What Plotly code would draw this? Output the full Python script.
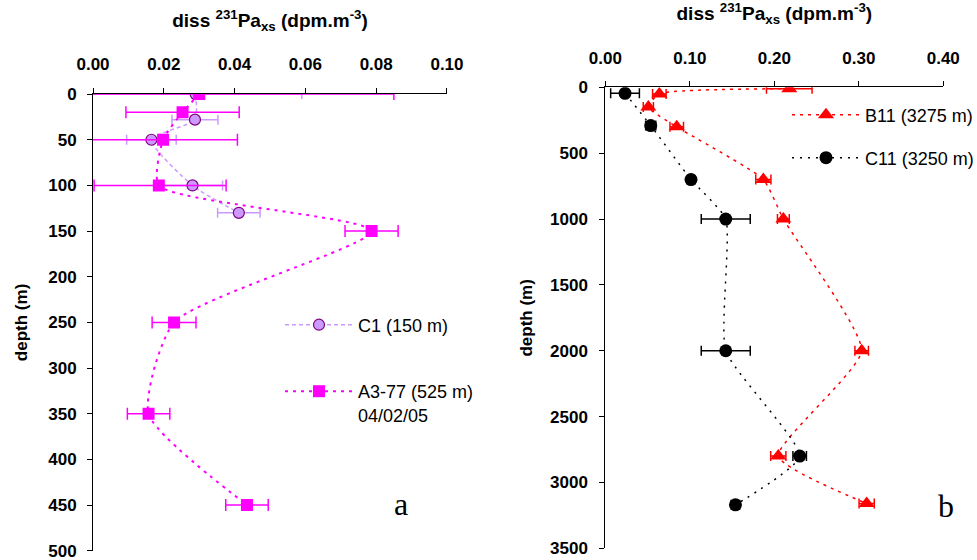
import plotly.graph_objects as go

# ---- Panel a ----
c1_depth = [0, 28, 50, 100, 130]
c1_val = [0.029, 0.0288, 0.0165, 0.0281, 0.0412]
c1_err = [0.030, 0.0065, 0.007, 0.0085, 0.006]

a3_depth = [0, 20, 50, 100, 150, 250, 350, 450]
a3_val = [0.030, 0.0253, 0.0198, 0.0186, 0.0787, 0.0229, 0.0157, 0.0435]
a3_err_plus = [0.055, 0.016, 0.021, 0.019, 0.0075, 0.0062, 0.006, 0.006]
a3_err_minus = [0.032, 0.016, 0.021, 0.0183, 0.0075, 0.0062, 0.006, 0.006]

# ---- Panel b ----
b11_depth = [10, 50, 150, 300, 700, 1000, 2000, 2800, 3160]
b11_val = [0.2177, 0.0639, 0.0509, 0.0845, 0.187, 0.2107, 0.3034, 0.2047, 0.3093]
b11_err = [0.027, 0.008, 0.006, 0.008, 0.009, 0.007, 0.008, 0.009, 0.009]

c11_depth = [45, 290, 700, 1000, 2000, 2800, 3170]
c11_val = [0.0233, 0.0537, 0.1014, 0.1425, 0.1425, 0.230, 0.154]
c11_err = [0.017, 0.006, 0.004, 0.029, 0.029, 0.008, 0.005]

x_ticks_a = [0.00, 0.02, 0.04, 0.06, 0.08, 0.10]
y_ticks_a = [0, 50, 100, 150, 200, 250, 300, 350, 400, 450, 500]
x_ticks_b = [0.00, 0.10, 0.20, 0.30, 0.40]
y_ticks_b = [0, 500, 1000, 1500, 2000, 2500, 3000, 3500]

FONT = "Liberation Sans, Arial, sans-serif"
SERIF = "Liberation Serif, Times New Roman, serif"
MAG = "#FF00FF"
LAV = "#CC99FF"
PUR = "#800080"

fig = go.Figure()

fig.add_trace(go.Scatter(
    x=c1_val, y=c1_depth, name="C1 (150 m)", mode="lines+markers",
    line=dict(color=LAV, width=1.5, dash="4px,3px", shape="spline", smoothing=0.6),
    marker=dict(symbol="circle", size=11, color=LAV, line=dict(color=PUR, width=1.2)),
    error_x=dict(type="data", array=c1_err, color=LAV, thickness=1.5, width=5),
    xaxis="x", yaxis="y", legend="legend", showlegend=True))

fig.add_trace(go.Scatter(
    x=a3_val, y=a3_depth, name="A3-77 (525 m)<br>04/02/05", mode="lines+markers",
    line=dict(color=MAG, width=2, dash="3px,5px", shape="spline", smoothing=0.6),
    marker=dict(symbol="square", size=12, color=MAG),
    error_x=dict(type="data", symmetric=False, array=a3_err_plus, arrayminus=a3_err_minus,
                 color=MAG, thickness=1.5, width=6),
    xaxis="x", yaxis="y", legend="legend2", showlegend=True))

fig.add_trace(go.Scatter(
    x=b11_val, y=b11_depth, name="B11 (3275 m)", mode="lines+markers",
    line=dict(color="#FF0000", width=1.5, dash="3px,5px", shape="spline", smoothing=0.5),
    marker=dict(symbol="triangle-up", size=14, color="#FF0000"),
    error_x=dict(type="data", array=b11_err, color="#FF0000", thickness=1.5, width=5),
    xaxis="x2", yaxis="y2", legend="legend3", showlegend=True))

fig.add_trace(go.Scatter(
    x=c11_val, y=c11_depth, name="C11 (3250 m)", mode="lines+markers",
    line=dict(color="black", width=1.5, dash="2px,6px", shape="spline", smoothing=0.5),
    marker=dict(symbol="circle", size=13, color="black"),
    error_x=dict(type="data", array=c11_err, color="black", thickness=1.5, width=5),
    xaxis="x2", yaxis="y2", legend="legend4", showlegend=True))

axis_common = dict(showgrid=False, zeroline=False, showline=True, linecolor="black",
                   linewidth=1, ticks="outside", ticklen=5, tickcolor="black", automargin=False,
                   ticklabeloverflow="allow",
                   tickfont=dict(family=FONT, size=17, color="black", weight="bold"))

title_text = "diss <sup>231</sup>Pa<sub>xs</sub> (dpm.m<sup>-3</sup>)"
title_font = dict(family=FONT, size=19, color="black", weight="bold")
ytitle_font = dict(family=FONT, size=17, color="black", weight="bold")

fig.update_layout(
    width=977, height=560, margin=dict(l=0, r=0, t=0, b=0, autoexpand=False),
    paper_bgcolor="white", plot_bgcolor="white", showlegend=True,
    font=dict(family=FONT, color="black"),
    xaxis=dict(domain=[0.0952, 0.4575], side="top", range=[0, 0.10],
               tickvals=x_ticks_a, tickformat=".2f", anchor="y", ticklabelstandoff=11,
               title=dict(text=title_text, standoff=22, font=title_font),
               **axis_common),
    yaxis=dict(domain=[0.0165, 0.832], range=[500, 0], tickvals=y_ticks_a, anchor="x",
               ticklabelstandoff=7,
               title=dict(text="depth (m)", standoff=16, font=ytitle_font),
               **axis_common),
    xaxis2=dict(domain=[0.6196, 0.9655], side="top", range=[0, 0.40],
                tickvals=x_ticks_b, tickformat=".2f", anchor="y2", ticklabelstandoff=11,
                title=dict(text=title_text, standoff=22, font=title_font),
                **axis_common),
    yaxis2=dict(domain=[0.0209, 0.844], range=[3500, 0], tickvals=y_ticks_b, anchor="x2",
                ticklabelstandoff=8,
                title=dict(text="depth (m)", standoff=13, font=ytitle_font),
                **axis_common),
)

leg_common = dict(bgcolor="rgba(0,0,0,0)", borderwidth=0, itemwidth=68, visible=True,
                  font=dict(family=FONT, size=18, color="black"),
                  xanchor="left", yanchor="middle", valign="top")
fig.update_layout(
    legend=dict(x=280 / 977, y=1 - 325 / 560, **leg_common),
    legend2=dict(x=280 / 977, y=1 - 403 / 560, **leg_common),
    legend3=dict(x=787 / 977, y=1 - 115 / 560, **leg_common),
    legend4=dict(x=787 / 977, y=1 - 158 / 560, **leg_common),
)

fig.add_annotation(text="a", x=401 / 977, y=1 - 524 / 560, xref="paper", yref="paper",
                   xanchor="center", showarrow=False, font=dict(family=SERIF, size=32, color="black"))
fig.add_annotation(text="b", x=946 / 977, y=1 - 526 / 560, xref="paper", yref="paper",
                   xanchor="center", showarrow=False, font=dict(family=SERIF, size=32, color="black"))

fig.write_html("out.html", post_script="document.body.style.margin='0';",
               config={"displayModeBar": False})
